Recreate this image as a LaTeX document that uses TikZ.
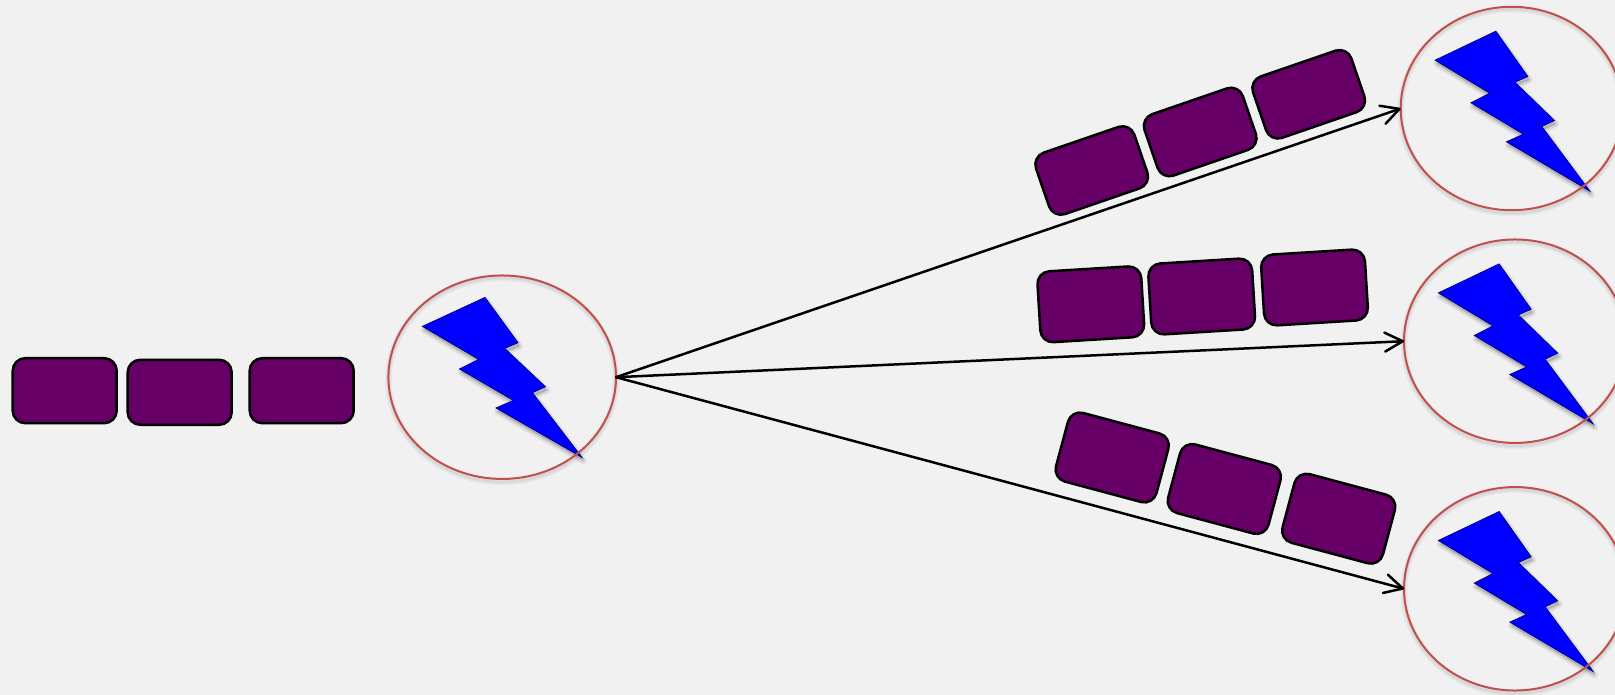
\documentclass[tikz,border=0pt]{standalone}
\usetikzlibrary{arrows.meta}
\usetikzlibrary{shapes.geometric}
\definecolor{paper}{HTML}{F1F1F1}
\definecolor{plum}{HTML}{660066}
\definecolor{ringred}{HTML}{C0504D}
\tikzset{
  packet/.style={draw=black, fill=plum, line width=.05cm, rounded corners=.25cm, minimum width=2.08cm, inner sep=0pt, outer sep=0pt},
  station/.style={draw=ringred, line width=.04cm, ellipse, minimum height=4.07cm, inner sep=0pt, outer sep=0pt},
  bolt/.style={fill=blue, draw=blue!55!black, line width=.016cm, line join=miter},
  link/.style={black, line width=.05cm, line cap=round, -{Straight Barb[length=.36cm, width=.38cm, round]}},
}
\begin{document}
\begin{tikzpicture} [x=.02cm, y=-.02cm]
\useasboundingbox (0,0) rectangle (1615,695);
\clip (0,0) rectangle (1615,695);
\fill[paper] (0,0) rectangle (1615,695);
\foreach \n/\x/\y/\rx/\bx/\by/\bs in {hub/502.2/377.2/113.8/0/0/1, top/1511.7/108.5/111/.8/2.5/.97, mid/1515/341.2/111/.8/2.5/.97, low/1515/588.8/111/.8/2.5/.97} {
 \foreach \w in {7,4.5,2} {
  \draw[black, opacity=.035, line width=\w*.02cm] (\x,\y+2.5) ellipse [x radius=\rx, y radius=102];
  \draw[black, opacity=.05, line width=\w*.02cm, line join=round, fill, shift={(\x+\bx+1.5,\y+\by+3.5)}, xscale=\bs]
   (-17.2,-79.8)--(15.8,-34.5)--(2.5,-28.8)--(43.2,9.5)--(30.2,15.5)--(79.8,80.2)--(-6.2,30.8)--(11.2,23.2)--(-42.8,-8.2)--(-23.5,-17.8)--(-79.8,-50.8)--cycle;
 }
 \draw[bolt, shift={(\x+\bx,\y+\by)}, xscale=\bs]
  (-17.2,-79.8)--(15.8,-34.5)--(2.5,-28.8)--(43.2,9.5)--(30.2,15.5)--(79.8,80.2)--(-6.2,30.8)--(11.2,23.2)--(-42.8,-8.2)--(-23.5,-17.8)--(-79.8,-50.8)--cycle;
 \node[station, minimum width=2*\rx*.02cm] (\n) at (\x,\y) {};
}
\foreach \n/\x/\y/\r/\h in {inA/64.7/390.7/0/1.3, inB/179.7/392.3/0/1.3, inC/301.7/390.7/0/1.3,
  topA/1091.7/170.5/19/1.3, topB/1200.2/132/19/1.3, topC/1308.7/94.3/19/1.3,
  midA/1090.8/304.3/3.5/1.42, midB/1201.7/296.5/3.5/1.42, midC/1314.5/287.5/3.5/1.42,
  lowA/1112.2/457.5/-15/1.42, lowB/1224.3/489/-15/1.42, lowC/1338.7/518.7/-15/1.42} {
 \node[packet, rotate=\r, minimum height=\h cm] (\n) at (\x,\y) {};
}
\foreach \n in {top,mid,low} {
 \draw[link] (hub.east) -- (\n.west);
}
\end{tikzpicture}
\end{document}
